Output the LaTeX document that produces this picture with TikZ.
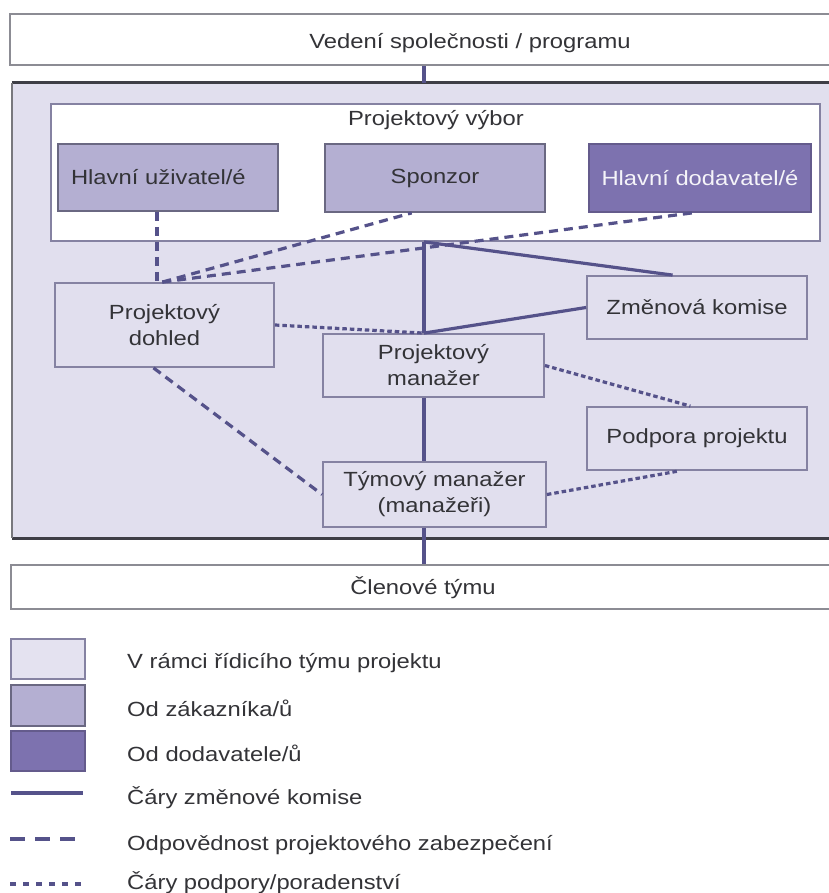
\documentclass[tikz,border=0pt]{standalone}
\usepackage{fontspec}
\setmainfont{Liberation Sans}[FakeStretch=1.16]
\usetikzlibrary{calc}

\definecolor{framefill}{HTML}{E1DFEE}
\definecolor{custfill}{HTML}{B4AFD2}
\definecolor{suppfill}{HTML}{7D72AF}
\definecolor{boxline}{HTML}{8582A2}
\definecolor{conn}{HTML}{55528A}
\definecolor{txt}{HTML}{333337}
\definecolor{frameline}{HTML}{3E3E46}
\definecolor{outerline}{HTML}{8C8C94}

\tikzset{
  lbl/.style={text=txt, font=\fontsize{20.5}{26}\selectfont, align=center, inner sep=0pt},
  rolebox/.style={lbl, draw=boxline, line width=1.8pt, fill=framefill},
  custbox/.style={rolebox, fill=custfill, draw=boxline!80!black},
  suppbox/.style={rolebox, fill=suppfill, draw=suppfill!80!black, text=white!92!suppfill},
  outerbox/.style={draw=outerline, line width=1.8pt, fill=white, inner sep=0pt},
  solidline/.style={draw=conn, line width=3.2pt},
  dashline/.style={draw=conn, line width=3.2pt, dash pattern=on 9pt off 6pt},
  dotline/.style={draw=conn, line width=3.2pt, dash pattern=on 4.5pt off 3pt},
  legdash/.style={draw=conn, line width=3.2pt, dash pattern=on 15pt off 10pt},
  legdot/.style={draw=conn, line width=3.2pt, dash pattern=on 6pt off 7pt},
}

\begin{document}
\begin{tikzpicture}[x=1pt, y=-1pt]
\useasboundingbox (0,0) rectangle (828,893);
\fill[white] (0,0) rectangle (828,893);

% vertical axis of the organisation
\coordinate (spine) at (424,0);
\coordinate (uzx) at (157,0);

% top management band
\node[outerbox, minimum width=830pt, minimum height=51pt] (vedeni) at (425,39.5) {};
\node[lbl] (vedenilabel) at (470,43) {Vedení společnosti / programu};

% project management team area
\node[fill=framefill, draw=none, minimum width=833pt, minimum height=455pt, inner sep=0pt] (frame) at (428.5,310.5) {};
\draw[frameline, line width=3pt] (frame.north west) -- (frame.north east);
\draw[frameline, line width=3pt] (frame.south west) -- (frame.south east);
\draw[frameline!70!white, line width=2pt] (frame.north west) -- (frame.south west);

% project board
\node[outerbox, draw=boxline, minimum width=769pt, minimum height=137pt] (board) at (435.5,172.5) {};
\node[lbl] (boardlabel) at (436,120) {Projektový výbor};

\node[custbox, minimum width=220pt, minimum height=67pt, text width=194pt, align=left] (uzivatel) at (168,177.5) {\raisebox{2pt}{Hlavní uživatel/é}};
\node[custbox, minimum width=220pt, minimum height=68pt] (sponzor) at (435,178) {\raisebox{-3pt}{Sponzor}};
\node[suppbox, minimum width=222pt, minimum height=68pt] (dodavatel) at (700,178) {Hlavní dodavatel/é};

% roles inside the management team
\node[rolebox, minimum width=219pt, minimum height=84pt] (dohled) at (164.5,325) {Projektový\\dohled};
\node[rolebox, minimum width=221pt, minimum height=63pt] (pm) at (433.5,365.5) {Projektový\\manažer};
\node[rolebox, minimum width=220pt, minimum height=63pt] (zk) at (697,307.5) {Změnová komise};
\node[rolebox, minimum width=220pt, minimum height=63pt] (podpora) at (697,438.5) {Podpora projektu};
\node[rolebox, minimum width=223pt, minimum height=65pt] (tm) at (434.5,494.5) {Týmový manažer\\(manažeři)};

% team members band
\node[outerbox, minimum width=830pt, minimum height=44pt] (clenove) at (426,587) {};
\node[lbl] (clenovelabel) at (423,588) {Členové týmu};

% change authority lines
\draw[solidline] (vedeni.south -| spine) -- (frame.north -| spine);
\draw[solidline] (board.south -| spine) -- (pm.north -| spine);
\draw[solidline] (board.south -| spine) -- ($(zk.north west)!0.39!(zk.north east)$);
\draw[solidline] (pm.north -| spine) -- (zk.west);
\draw[solidline] (pm.south -| spine) -- (tm.north -| spine);
\draw[solidline] (tm.south -| spine) -- (clenove.north -| spine);

% project assurance lines
\coordinate (dtop) at ($(dohled.north west)!0.49!(dohled.north east)$);
\draw[dashline] (uzivatel.south -| uzx) -- (dohled.north -| uzx);
\draw[dashline] (dtop) -- ($(sponzor.south west)!0.395!(sponzor.south east)$);
\draw[dashline] (dtop) -- ($(dodavatel.south west)!0.465!(dodavatel.south east)$);
\draw[dashline] ($(dohled.south west)!0.45!(dohled.south east)$) -- (tm.west);

% support and advice lines
\draw[dotline] (dohled.east) -- (pm.north -| spine);
\draw[dotline] (pm.east) -- ($(podpora.north west)!0.47!(podpora.north east)$);
\draw[dotline] (tm.east) -- ($(podpora.south west)!0.42!(podpora.south east)$);

% legend
\node[rolebox, fill=framefill!90!white, minimum width=74pt, minimum height=40pt] (leg1) at (48,659) {};
\node[custbox, minimum width=74pt, minimum height=41pt] (leg2) at (48,705.5) {};
\node[suppbox, minimum width=74pt, minimum height=40pt] (leg3) at (48,751) {};
\coordinate (ls1) at (11,793); \coordinate (ls2) at (83,793);
\coordinate (ld1) at (10,839); \coordinate (ld2) at (76,839);
\coordinate (lp1) at (10,884); \coordinate (lp2) at (82,884);
\draw[solidline] (ls1) -- (ls2);
\draw[legdash] (ld1) -- (ld2);
\draw[legdot] (lp1) -- (lp2);

\node[lbl, anchor=west] (legt1) at (127,663) {V rámci řídicího týmu projektu};
\node[lbl, anchor=west] (legt2) at (127,708) {Od zákazníka/ů};
\node[lbl, anchor=west] (legt3) at (127,753) {Od dodavatele/ů};
\node[lbl, anchor=west] (legt4) at (127,798) {Čáry změnové komise};
\node[lbl, anchor=west] (legt5) at (127,845) {Odpovědnost projektového zabezpečení};
\node[lbl, anchor=west] (legt6) at (127,883) {Čáry podpory/poradenství};
\end{tikzpicture}
\end{document}
